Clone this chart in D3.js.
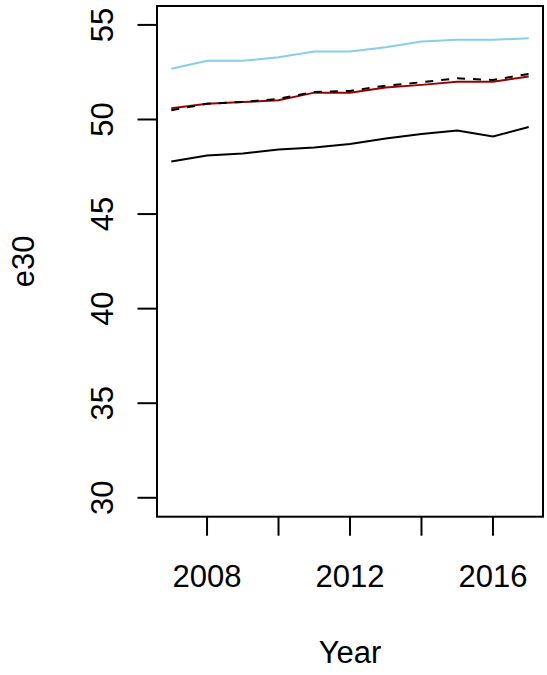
<!DOCTYPE html>
<html>
<head>
<meta charset="utf-8">
<script src="https://cdn.jsdelivr.net/npm/d3@7"></script>
<style>
  body { margin: 0; background: #fff; }
  svg text { font-family: "Liberation Sans", Arial, sans-serif; fill: #000; }
</style>
</head>
<body>
<div id="chart"></div>
<script>
const years = [2007, 2008, 2009, 2010, 2011, 2012, 2013, 2014, 2015, 2016, 2017];
const blueSeries   = [52.68, 53.10, 53.10, 53.29, 53.59, 53.59, 53.82, 54.12, 54.21, 54.21, 54.30];
const redSeries    = [50.60, 50.83, 50.92, 51.02, 51.42, 51.42, 51.69, 51.83, 52.00, 52.00, 52.27];
const dashedSeries = [50.49, 50.83, 50.93, 51.09, 51.46, 51.51, 51.79, 51.97, 52.18, 52.09, 52.41];
const blackSeries  = [47.78, 48.10, 48.20, 48.41, 48.52, 48.71, 48.99, 49.23, 49.42, 49.10, 49.60];
const xTicks = [2008, 2010, 2012, 2014, 2016];
const xTickLabels = ["2008", "", "2012", "", "2016"];
const yTicks = [30, 35, 40, 45, 50, 55];

const W = 547, H = 675;
const box = { left: 157, right: 543, top: 6, bottom: 516.7 };

const svg = d3.select("#chart").append("svg")
    .attr("width", W).attr("height", H);

// R pads axes by 4% on each side
const x = d3.scaleLinear().domain([2006.6, 2017.4]).range([box.left, box.right]);
const y = d3.scaleLinear().domain([29, 56]).range([box.bottom, box.top]);

const series = [
    { values: blueSeries, color: "#87CEEB", dash: null },
    { values: blackSeries, color: "#000000", dash: null },
    { values: redSeries, color: "#990000", dash: null },
    { values: dashedSeries, color: "#000000", dash: "8,8" }
];

const line = d3.line()
    .x((d, i) => x(years[i]))
    .y(d => y(d));

svg.selectAll(".series")
    .data(series)
    .enter()
    .append("path")
    .attr("class", "series")
    .attr("d", d => line(d.values))
    .attr("fill", "none")
    .attr("stroke", d => d.color)
    .attr("stroke-width", 2)
    .attr("stroke-dasharray", d => d.dash);

// plot box
svg.append("rect")
    .attr("x", box.left).attr("y", box.top)
    .attr("width", box.right - box.left)
    .attr("height", box.bottom - box.top)
    .attr("fill", "none")
    .attr("stroke", "#000")
    .attr("stroke-width", 2);

// x axis
const xAxis = svg.append("g");
xAxis.selectAll("line")
    .data(xTicks)
    .enter()
    .append("line")
    .attr("x1", d => x(d)).attr("x2", d => x(d))
    .attr("y1", box.bottom).attr("y2", box.bottom + 19)
    .attr("stroke", "#000").attr("stroke-width", 2);
xAxis.selectAll("text")
    .data(xTicks)
    .enter()
    .append("text")
    .attr("x", d => x(d))
    .attr("y", 586.5)
    .attr("text-anchor", "middle")
    .style("font-size", "31px")
    .text((d, i) => xTickLabels[i]);

// y axis
const yAxis = svg.append("g");
yAxis.selectAll("line")
    .data(yTicks)
    .enter()
    .append("line")
    .attr("x1", box.left - 19.5).attr("x2", box.left)
    .attr("y1", d => y(d)).attr("y2", d => y(d))
    .attr("stroke", "#000").attr("stroke-width", 2);
yAxis.selectAll("text")
    .data(yTicks)
    .enter()
    .append("text")
    .attr("transform", d => `translate(${box.left - 44},${y(d)}) rotate(-90)`)
    .attr("text-anchor", "middle")
    .style("font-size", "31px")
    .text(d => d);

// axis titles
svg.append("text")
    .attr("x", (box.left + box.right) / 2)
    .attr("y", 662.5)
    .attr("text-anchor", "middle")
    .style("font-size", "31px")
    .text("Year");

svg.append("text")
    .attr("transform", `translate(34,${(box.top + box.bottom) / 2}) rotate(-90)`)
    .attr("text-anchor", "middle")
    .style("font-size", "31px")
    .text("e30");
</script>
</body>
</html>
